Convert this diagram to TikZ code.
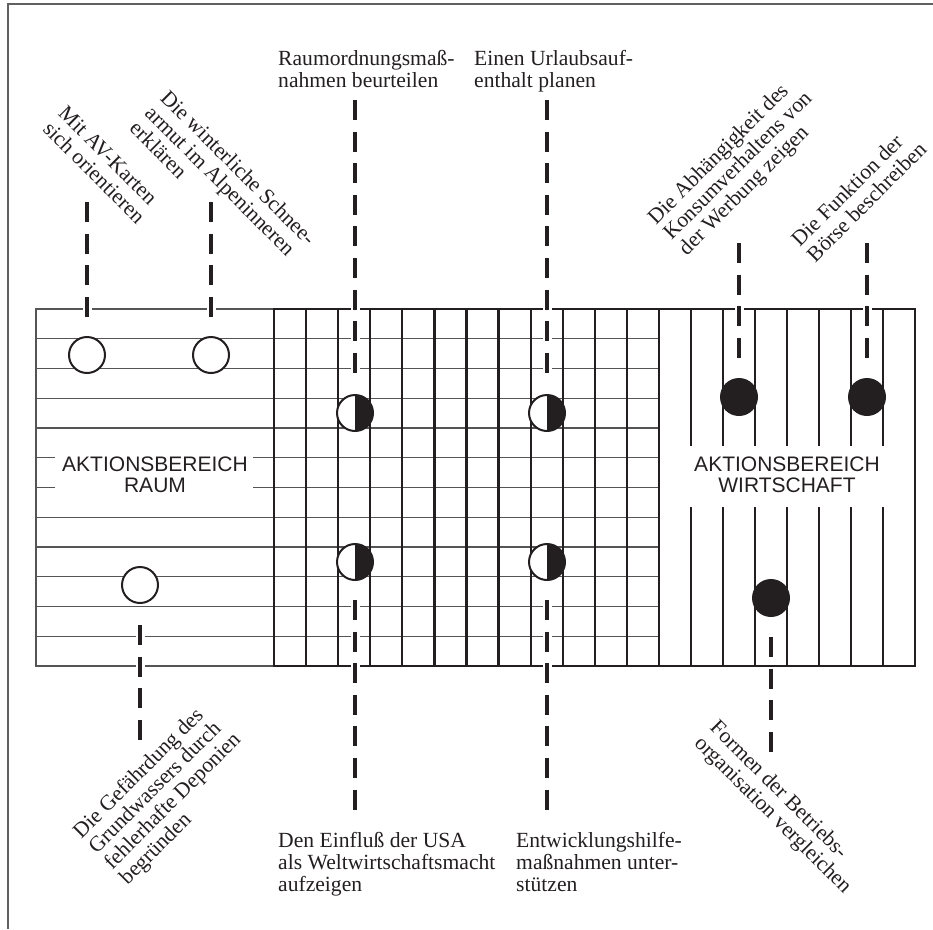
\documentclass[tikz,border=0pt]{standalone}
\usepackage{fontspec}
\setmainfont{Liberation Serif}
\newfontfamily\sansf{Liberation Sans}
\definecolor{ink}{HTML}{231F20}
\definecolor{thingray}{HTML}{555555}
\definecolor{framegray}{HTML}{606060}
\begin{document}
\begin{tikzpicture}[x=1pt,y=-1pt,
  lbl/.style={font=\fontsize{21.6}{21.8}\selectfont, inner sep=0pt, align=left, text=ink},
  sectlbl/.style={font=\sansf\fontsize{21}{21}\selectfont, inner sep=0pt, align=center, text=ink},
  opencirc/.style={circle, draw=ink, line width=2pt, fill=white, minimum size=36pt, inner sep=0pt, outer sep=0pt},
  halfcirc/.style={opencirc, path picture={\fill[ink] (path picture bounding box.north) rectangle (path picture bounding box.south east);}},
  fullcirc/.style={circle, fill=ink, minimum size=38pt, inner sep=0pt, outer sep=0pt},
  dashln/.style={draw=ink, line width=3.6pt, dash pattern=on 20pt off 11.6pt,
    preaction={draw=white, line width=9pt, dash pattern=on 24pt off 7.6pt, dash phase=2pt}},
  thinln/.style={draw=thingray, line width=1.1pt},
  thickln/.style={draw=ink, line width=2.2pt},
  frameln/.style={draw=framegray, line width=2pt}
]
\useasboundingbox (0,0) rectangle (933,929);
% frame
\draw[frameln] (933,4) -- (8,4) -- (8,929);

% horizontal thin lines
\foreach \k in {1,2,3,4,7,8,9,10,11}
  \draw[thinln] (36,{309+29.75*\k}) -- (659,{309+29.75*\k});
\foreach \k in {5,6}{
  \draw[thinln] (36,{309+29.75*\k}) -- (55,{309+29.75*\k});
  \draw[thinln] (253,{309+29.75*\k}) -- (659,{309+29.75*\k});
}
\draw[thinln] (274,309) -- (36,309) -- (36,666) -- (274,666);

% thick verticals of middle grid
\foreach \j in {0,...,12}
  \draw[thickln] ({274+32.083*\j},309) -- ({274+32.083*\j},666);
% right region verticals
\foreach \j in {1,...,7}{
  \draw[thickln] ({659+32*\j},309) -- ({659+32*\j},446);
  \draw[thickln] ({659+32*\j},507) -- ({659+32*\j},666);
}
\draw[thickln] (915,309) -- (915,666);
\draw[thickln] (273,309) -- (916,309);
\draw[thickln] (273,666) -- (916,666);

% circles
\node[opencirc] (c1) at (87,355) {};
\node[opencirc] (c2) at (211,355) {};
\node[opencirc] (c3) at (140,585) {};
\node[halfcirc] (h1) at (355,413) {};
\node[halfcirc] (h2) at (547,413) {};
\node[halfcirc] (h3) at (355,562) {};
\node[halfcirc] (h4) at (547,562) {};
\node[fullcirc] (f1) at (739,397) {};
\node[fullcirc] (f2) at (867,397) {};
\node[fullcirc] (f3) at (771,598) {};

% dash end coordinates
\coordinate (dc1) at (87,202);
\coordinate (dc2) at (211,202);
\coordinate (dc3) at (140,742);
\coordinate (dh1) at (355,100);
\coordinate (dh2) at (547,100);
\coordinate (dh3) at (355,812);
\coordinate (dh4) at (547,812);
\coordinate (df1) at (739,243);
\coordinate (df2) at (867,243);
\coordinate (df3) at (771,753);

% dashed connectors
\draw[dashln] (dc1) -- ([yshift=19pt]c1.north);
\draw[dashln] (dc2) -- ([yshift=19pt]c2.north);
\draw[dashln] ([yshift=-22pt]c3.south) -- (dc3);
\draw[dashln] (dh1) -- ([yshift=20pt]h1.north);
\draw[dashln] (dh2) -- ([yshift=20pt]h2.north);
\draw[dashln] ([yshift=-20pt]h3.south) -- (dh3);
\draw[dashln] ([yshift=-20pt]h4.south) -- (dh4);
\draw[dashln] (df1) -- ([yshift=18pt]f1.north);
\draw[dashln] (df2) -- ([yshift=18pt]f2.north);
\draw[dashln] ([yshift=-20pt]f3.south) -- (df3);

% section labels
\node[sectlbl] (raum) at (155,475) {AKTIONSBEREICH\\RAUM};
\node[sectlbl] (wirt) at (787,475) {AKTIONSBEREICH\\WIRTSCHAFT};

% texts
\node[lbl, rotate=-45] (tmit) at (102,165) {Mit AV-Karten\\sich orientieren};
\node[lbl, rotate=-45] (twin) at (223,183) {Die winterliche Schnee-\\armut im Alpeninneren\\erklären};
\node[lbl, anchor=north west] (traum) at (278,50) {Raumordnungsmaß-\\nahmen beurteilen};
\node[lbl, anchor=north west] (turl) at (474,50) {Einen Urlaubsauf-\\enthalt planen};
\node[lbl, rotate=45] (tabh) at (738.5,166.5) {Die Abhängigkeit des\\Konsumverhaltens von\\der Werbung zeigen};
\node[lbl, rotate=45] (tboe) at (858.6,194) {Die Funktion der\\Börse beschreiben};
\node[lbl, rotate=45] (tgru) at (165.5,794) {Die Gefährdung des\\Grundwassers durch\\fehlerhafte Deponien\\begründen};
\node[lbl, anchor=north west] (tusa) at (278,832) {Den Einfluß der USA\\als Weltwirtschaftsmacht\\aufzeigen};
\node[lbl, anchor=north west] (tent) at (516,832) {Entwicklungshilfe-\\maßnahmen unter-\\stützen};
\node[lbl, rotate=-45] (tfor) at (780,808) {Formen der Betriebs-\\organisation vergleichen};
\end{tikzpicture}
\end{document}
